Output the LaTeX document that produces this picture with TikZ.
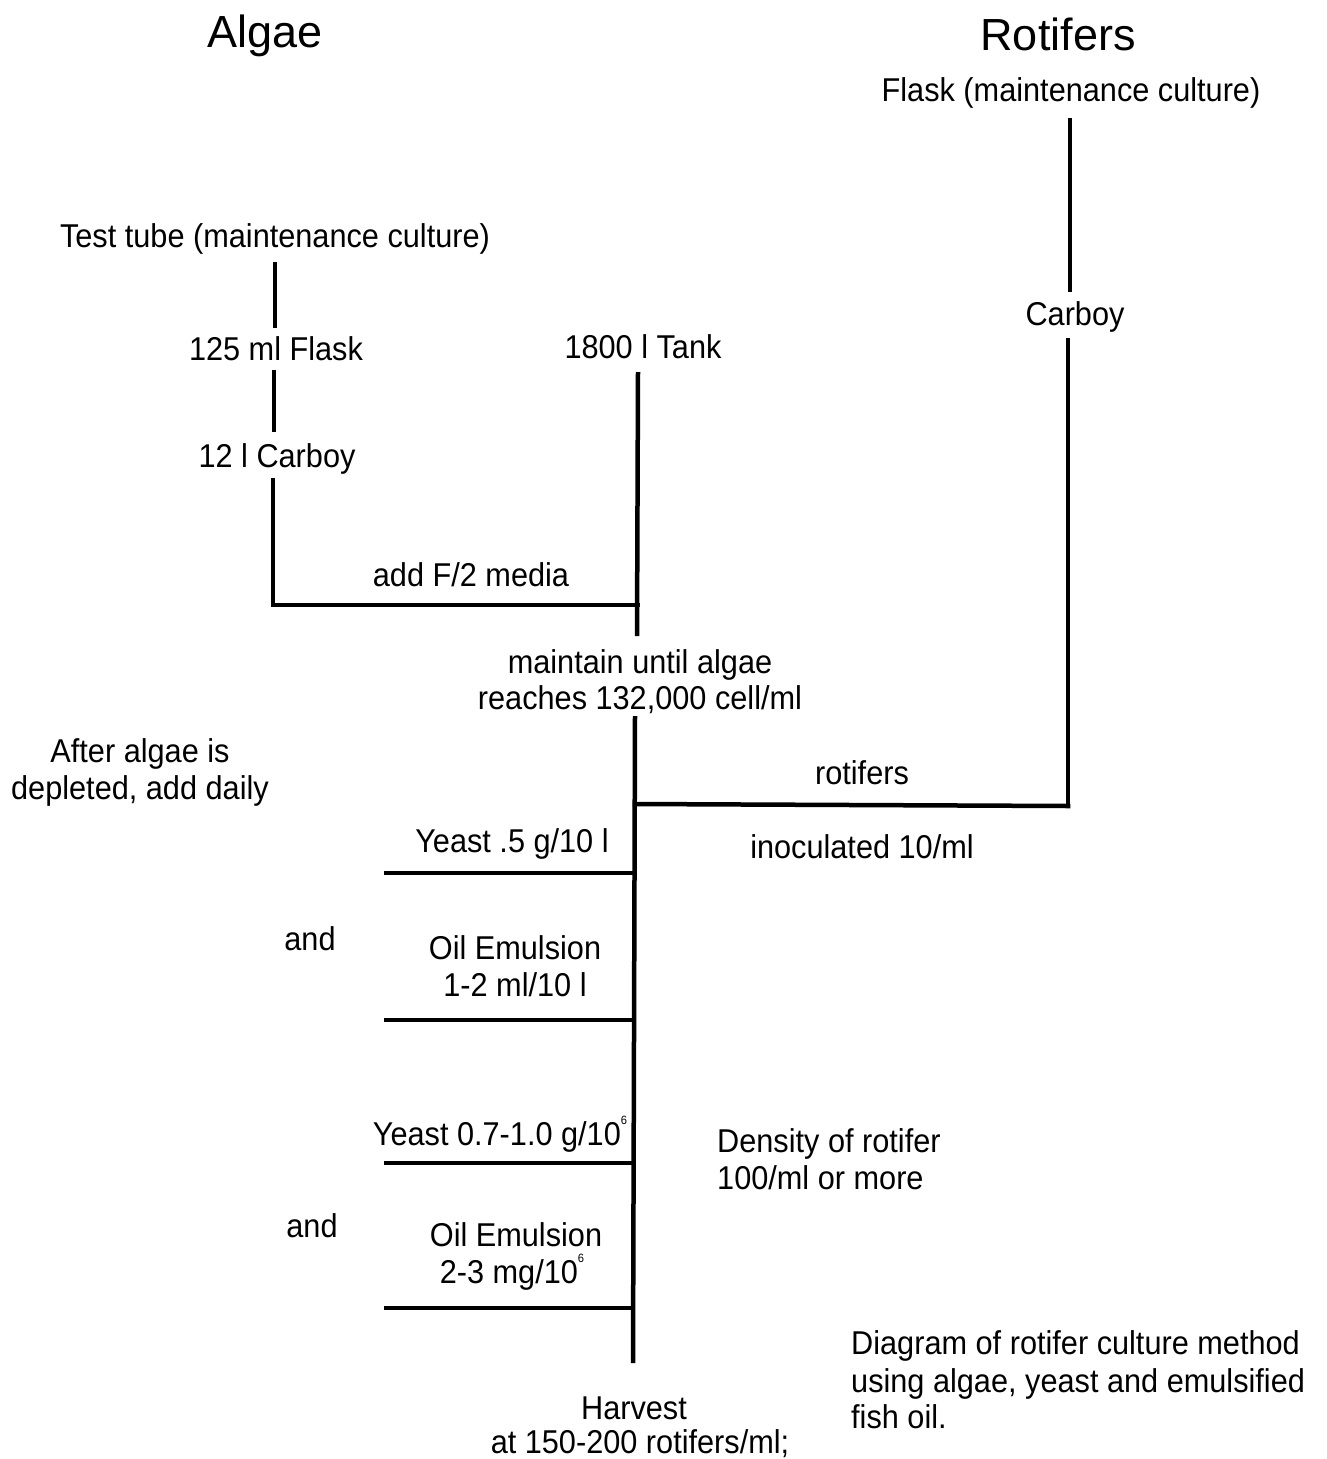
\documentclass[tikz,border=0pt]{standalone}
\usepackage{fontspec}
\setmainfont{Liberation Sans}
\newfontfamily\bodyfont{Liberation Sans}[FakeStretch=0.93]
\newcommand{\supsix}{\raisebox{0.62em}{\fontsize{12}{12}\selectfont 6}}
\begin{document}
\begin{tikzpicture}[x=1pt,y=-1pt,
  txt/.style={anchor=base,inner sep=0pt,font=\bodyfont\fontsize{33}{37}\selectfont},
  ttl/.style={anchor=base,inner sep=0pt,font=\fontsize{45}{50}\selectfont},
  lft/.style={txt,anchor=base west},
  ln/.style={line width=4.5pt},
  lnc/.style={line width=4.5pt,line cap=rect}]
\path[use as bounding box,fill=white] (0,0) rectangle (1327,1459);
% titles
\node[ttl] (algae) at (265,47) {Algae};
\node[ttl] (rotifers) at (1058,50) {Rotifers};
% rotifer column
\node[txt] (rflask) at (1071,101) {Flask (maintenance culture)};
\node[txt] (rcarboy) at (1075,325) {Carboy};
\coordinate (r1) at (1070,118);
\coordinate (r2) at (1070,292);
\coordinate (r3) at (1068,338);
\coordinate (r4) at (1068,806);
% algae column
\node[txt] (tube) at (275,247) {Test tube (maintenance culture)};
\node[txt] (flask) at (276,360) {125 ml Flask};
\node[txt] (carboy) at (277,467) {12 l Carboy};
\node[txt] (tank) at (643,358) {1800 l Tank};
\node[txt] (media) at (471,586) {add F/2 media};
\coordinate (a1) at (275,262);
\coordinate (a2) at (275,328);
\coordinate (a3) at (274,370);
\coordinate (a4) at (274,432);
\coordinate (a5) at (273,480);
\coordinate (a6) at (273,605);
\coordinate (t1) at (638,372);
\coordinate (t2) at (638,605);
\coordinate (t3) at (637,636);
\node[txt] (maint1) at (640,673) {maintain until algae};
\node[txt] (maint2) at (640,709) {reaches 132,000 cell/ml};
\coordinate (m1) at (635,716);
\coordinate (m2) at (635,804);
\coordinate (m3) at (634,873);
\coordinate (m4) at (634,1020);
\coordinate (m5) at (633,1163);
\coordinate (m6) at (633,1308);
\coordinate (m7) at (633,1363);
\node[txt] (rot1) at (862,784) {rotifers};
\node[txt] (rot2) at (862,858) {inoculated 10/ml};
% feeding
\node[txt] (after1) at (140,762) {After algae is};
\node[txt] (after2) at (140,799) {depleted, add daily};
\node[txt] (yeast1) at (512,852) {Yeast .5 g/10 l};
\coordinate (y1) at (384,873);
\node[txt] (and1) at (310,950) {and};
\node[txt] (oil1a) at (515,959) {Oil Emulsion};
\node[txt] (oil1b) at (515,996) {1-2 ml/10 l};
\coordinate (o1) at (384,1020);
\node[txt] (yeast2) at (500,1145) {Yeast 0.7-1.0 g/10\supsix};
\coordinate (y2) at (384,1163);
\node[txt] (and2) at (312,1237) {and};
\node[txt] (oil2a) at (516,1246) {Oil Emulsion};
\node[txt] (oil2b) at (512,1283) {2-3 mg/10\supsix};
\coordinate (o2) at (384,1308);
\node[lft] (dens1) at (717,1152) {Density of rotifer};
\node[lft] (dens2) at (717,1189) {100/ml or more};
\node[txt] (harv1) at (634,1419) {Harvest};
\node[txt] (harv2) at (640,1453) {at 150-200 rotifers/ml;};
\node[lft] (cap1) at (851,1354) {Diagram of rotifer culture method};
\node[lft] (cap2) at (851,1392) {using algae, yeast and emulsified};
\node[lft] (cap3) at (851,1428) {fish oil.};
% lines
\draw[ln] (r1) -- (r2);
\draw[ln] (r3) -- (r4);
\draw[ln] (a1) -- (a2);
\draw[ln] (a3) -- (a4);
\draw[lnc] (a5) -- (a6) -- (t2);
\draw[ln] (t1) -- (t3);
\draw[ln] (m1) -- (m7);
\draw[lnc] (m2) -- (r4);
\draw[ln] (y1) -- (m3);
\draw[ln] (o1) -- (m4);
\draw[ln] (y2) -- (m5);
\draw[ln] (o2) -- (m6);
\end{tikzpicture}
\end{document}
